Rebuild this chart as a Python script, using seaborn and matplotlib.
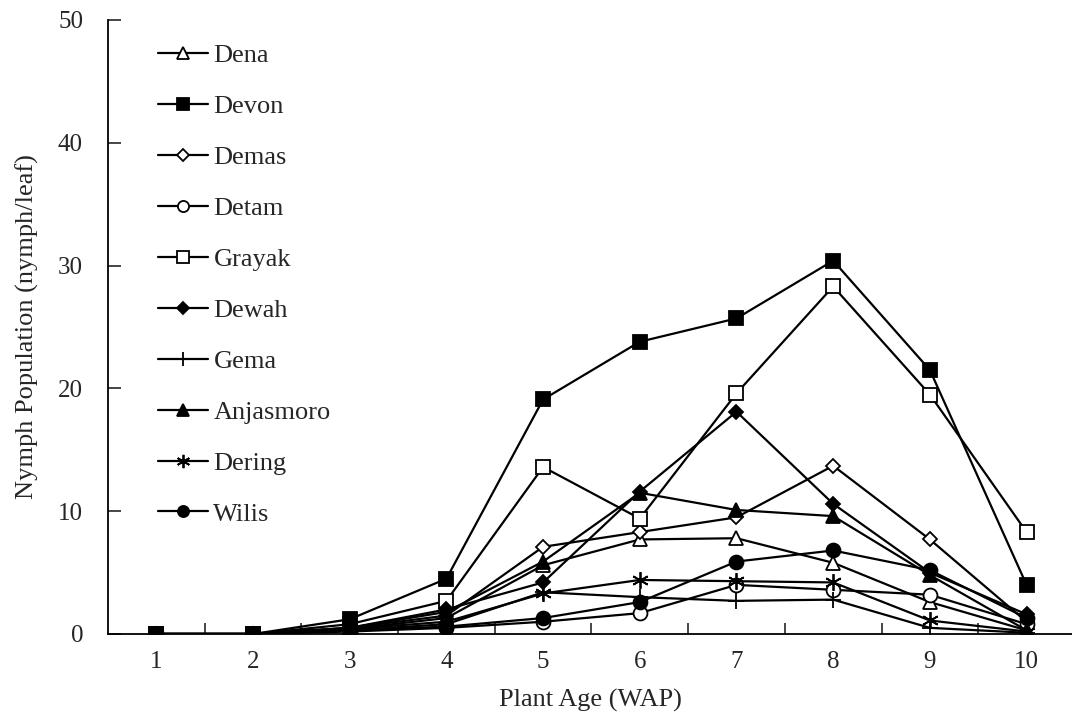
import numpy as np
import pandas as pd
import matplotlib
matplotlib.use("Agg")
import matplotlib.pyplot as plt
import seaborn as sns

# weeks after planting
weeks = [1, 2, 3, 4, 5, 6, 7, 8, 9, 10]

# nymph counts per leaf
dena = [0, 0, 0.4, 1.3, 5.6, 7.7, 7.8, 5.8, 2.6, 0.3]
devon = [0, 0, 1.2, 4.5, 19.1, 23.8, 25.7, 30.4, 21.5, 4.0]
demas = [0, 0, 0.5, 1.5, 7.1, 8.3, 9.5, 13.7, 7.7, 1.0]
detam = [0, 0, 0.2, 0.5, 1.0, 1.7, 4.0, 3.6, 3.2, 0.8]
grayak = [0, 0, 0.8, 2.7, 13.6, 9.4, 19.6, 28.3, 19.5, 8.3]
dewah = [0, 0, 0.5, 2.0, 4.2, 11.6, 18.1, 10.6, 5.0, 1.6]
gema = [0, 0, 0.3, 0.8, 3.4, 3.0, 2.7, 2.8, 0.5, 0.1]
anjasmoro = [0, 0, 0.5, 1.8, 5.9, 11.5, 10.1, 9.6, 4.8, 0.3]
dering = [0, 0, 0.4, 1.0, 3.3, 4.4, 4.3, 4.2, 1.1, 0.2]
wilis = [0, 0, 0.3, 0.6, 1.3, 2.6, 5.9, 6.8, 5.2, 1.3]

varieties = ["Dena", "Devon", "Demas", "Detam", "Grayak",
             "Dewah", "Gema", "Anjasmoro", "Dering", "Wilis"]
values = [dena, devon, demas, detam, grayak, dewah, gema, anjasmoro, dering, wilis]

# marker, face colour, size
styles = {
    "Dena": ("^", "white", 10),
    "Devon": ("s", "black", 10.5),
    "Demas": ("D", "white", 7.5),
    "Detam": ("o", "white", 10),
    "Grayak": ("s", "white", 10.5),
    "Dewah": ("D", "black", 7.5),
    "Gema": ("+", "black", 12),
    "Anjasmoro": ("^", "black", 10),
    "Dering": ((6, 2, 0), "black", 12),
    "Wilis": ("o", "black", 10),
}

df = pd.DataFrame({
    "week": weeks * len(varieties),
    "nymph": np.concatenate(values),
    "variety": np.repeat(varieties, len(weeks)),
})

sns.set_style("white")
plt.rcParams["font.family"] = ["Liberation Serif", "DejaVu Serif"]

fig = plt.figure(figsize=(10.72, 7.25), dpi=100)
ax = fig.add_axes([108 / 1072, 91 / 725, 964 / 1072, 614 / 725])

for name in varieties:
    marker, face, size = styles[name]
    sub = df[df["variety"] == name]
    sns.lineplot(data=sub, x="week", y="nymph", ax=ax, color="black",
                 marker=marker, markerfacecolor=face, markeredgecolor="black",
                 markeredgewidth=1.3, markersize=size, linewidth=1.6,
                 label=name, legend=False, zorder=3 if name == "Devon" else 2)

ax.set_xlim(0.5, 10.47)
ax.set_ylim(0, 50)
ax.set_xticks(weeks)
ax.set_xticks(np.arange(1.5, 10, 1), minor=True)
ax.set_yticks(range(0, 51, 10))
ax.tick_params(axis="x", which="major", length=0, pad=12, labelsize=18)
ax.tick_params(axis="x", which="minor", direction="in", length=8, width=1.2, bottom=True)
ax.tick_params(axis="y", direction="in", length=9, width=1.2, pad=18, labelsize=18, left=True)

for side in ["top", "right"]:
    ax.spines[side].set_visible(False)
for side in ["left", "bottom"]:
    ax.spines[side].set_color("black")
    ax.spines[side].set_linewidth(1.3)

ax.set_xlabel("Plant Age (WAP)", fontsize=19, labelpad=12)
ax.set_ylabel("Nymph Population (nymph/leaf)", fontsize=19, labelpad=14)

handles, labels = ax.get_legend_handles_labels()
ax.legend(handles, labels, loc="upper left", bbox_to_anchor=(158 / 1072, 1 - 44 / 725),
          bbox_transform=fig.transFigure, frameon=False, fontsize=19,
          handlelength=1.9, handletextpad=0.2, labelspacing=1.04, borderpad=0,
          borderaxespad=0, markerscale=0.8)

fig.savefig("out.png", dpi=100)
